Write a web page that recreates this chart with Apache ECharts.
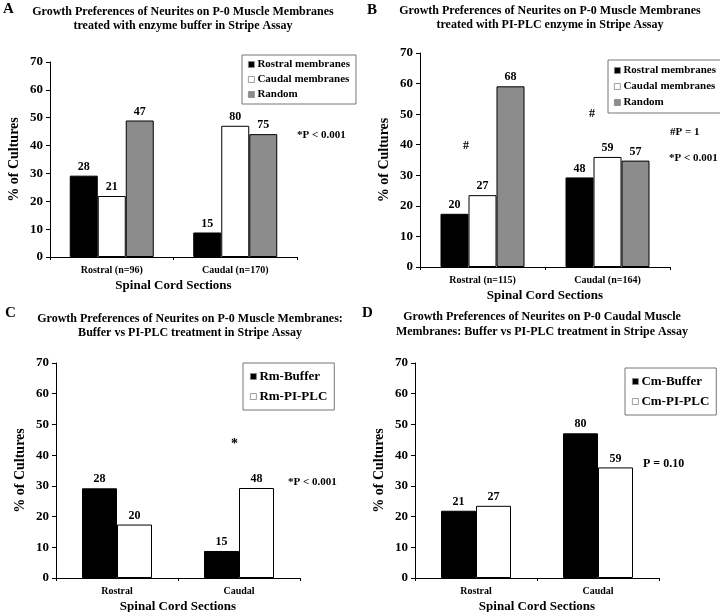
<!DOCTYPE html>
<html>
<head>
<meta charset="utf-8">
<script src="https://cdn.jsdelivr.net/npm/echarts@6/dist/echarts.min.js"></script>
<style>html,body{margin:0;padding:0;background:#fff}#c{width:720px;height:612px}</style>
</head>
<body>
<div id="c"></div>
<script>
// ---- data ----
const categoriesA = ['Rostral (n=96)', 'Caudal (n=170)'];
const categoriesB = ['Rostral (n=115)', 'Caudal (n=164)'];
const categoriesCD = ['Rostral', 'Caudal'];
const yTicks = [0, 10, 20, 30, 40, 50, 60, 70];

// Panel A (% of cultures) and counts shown above bars
const rostralMembA = [29.2, 8.8];
const caudalMembA = [21.9, 47.1];
const randomA = [49.0, 44.1];
const rostralMembACount = [28, 15];
const caudalMembACount = [21, 80];
const randomACount = [47, 75];

// Panel B
const rostralMembB = [17.4, 29.3];
const caudalMembB = [23.5, 36.0];
const randomB = [59.1, 34.8];
const rostralMembBCount = [20, 48];
const caudalMembBCount = [27, 59];
const randomBCount = [68, 57];

// Panel C
const rmBuffer = [29.2, 8.8];
const rmPiPlc = [17.4, 29.3];
const rmBufferCount = [28, 15];
const rmPiPlcCount = [20, 48];

// Panel D
const cmBuffer = [21.9, 47.1];
const cmPiPlc = [23.5, 36.0];
const cmBufferCount = [21, 80];
const cmPiPlcCount = [27, 59];

// ---- styling ----
const FF = 'Liberation Serif';
const BLACK = '#000000', WHITE = '#ffffff', GRAY = '#8c8c8c';

function yAxis(grid) {
  return {
    type: 'value', gridIndex: grid, min: yTicks[0], max: yTicks[yTicks.length - 1], interval: 10,
    name: '% of Cultures', nameLocation: 'middle', nameGap: 29, nameRotate: 90,
    nameTextStyle: { fontFamily: FF, fontWeight: 'bold', fontSize: 14, color: '#000' },
    axisLine: { show: true, lineStyle: { color: '#000', width: 1 } },
    axisTick: { show: true, length: 4, lineStyle: { color: '#000' } },
    axisLabel: { fontFamily: FF, fontWeight: 'bold', fontSize: 13, color: '#000', margin: 7 },
    splitLine: { show: false }
  };
}
function xAxis(grid, cats) {
  return {
    type: 'category', gridIndex: grid, data: cats,
    name: 'Spinal Cord Sections', nameLocation: 'middle', nameGap: 22,
    nameTextStyle: { fontFamily: FF, fontWeight: 'bold', fontSize: 13, color: '#000' },
    axisLine: { show: true, lineStyle: { color: '#000', width: 1 } },
    axisTick: { show: true, length: 3, lineStyle: { color: '#000' } },
    axisLabel: { fontFamily: FF, fontWeight: 'bold', fontSize: 10, color: '#000', margin: 8 }
  };
}
function bar(name, grid, data, counts, color, width) {
  return {
    type: 'bar', name: name, xAxisIndex: grid, yAxisIndex: grid, data: data,
    barWidth: width, barGap: '0%',
    itemStyle: { color: color, borderColor: '#000', borderWidth: 1 },
    label: {
      show: true, position: 'top', distance: 3,
      fontFamily: FF, fontWeight: 'bold', fontSize: 12, color: '#000',
      formatter: p => String(counts[p.dataIndex])
    },
    emphasis: { disabled: true }, animation: false
  };
}
function legend(names, left, top, fontSize, gap, pad) {
  return {
    data: names.map(n => ({ name: n, icon: 'rect' })), orient: 'vertical', left: left, top: top,
    itemWidth: 6, itemHeight: 6, itemGap: gap, padding: pad,
    borderColor: '#777', borderWidth: 1,
    itemStyle: { borderColor: '#888', borderWidth: 0.8 },
    textStyle: { fontFamily: FF, fontWeight: 'bold', fontSize: fontSize, color: '#000', padding: [0, 0, 0, -2] },
    selectedMode: false
  };
}
function title(text, cx, top, lh) {
  return {
    text: text, left: cx, top: top, textAlign: 'center', padding: 0,
    textStyle: { fontFamily: FF, fontWeight: 'bold', fontSize: 12, color: '#000', lineHeight: lh }
  };
}
function letter(t, left, top) {
  return { text: t, left: left, top: top, padding: 0, textStyle: { fontFamily: FF, fontWeight: 'bold', fontSize: 15, color: '#000' } };
}
function note(text, x, y, size) {
  return { type: 'text', left: x, top: y, style: { text: text, fontFamily: FF, fontWeight: 'bold', fontSize: size, fill: '#000' } };
}
function grid(left, top, width, height) {
  return { left: left, top: top, width: width, height: height, outerBoundsMode: 'none', containLabel: false };
}

const option = {
  backgroundColor: '#fff',
  animation: false,
  title: [
    letter('A', 3, 2), letter('B', 367, 3), letter('C', 5, 306), letter('D', 362, 306),
    title('Growth Preferences of Neurites on P-0 Muscle Membranes\ntreated with enzyme buffer in Stripe Assay', 183, 5, 14),
    title('Growth Preferences of Neurites on P-0 Muscle Membranes\ntreated with PI-PLC enzyme in Stripe Assay', 550, 4, 14),
    title('Growth Preferences of Neurites on P-0 Muscle Membranes:\nBuffer vs PI-PLC treatment in Stripe Assay', 190, 312, 14),
    title('Growth Preferences of Neurites on P-0 Caudal Muscle\nMembranes: Buffer vs PI-PLC treatment in Stripe Assay', 542, 309, 15)
  ],
  grid: [
    grid(50, 62, 247, 195),
    grid(420, 53, 250, 214),
    grid(56, 363, 244, 215),
    grid(415, 363, 244, 215)
  ],
  xAxis: [xAxis(0, categoriesA), xAxis(1, categoriesB), xAxis(2, categoriesCD), xAxis(3, categoriesCD)],
  yAxis: [yAxis(0), yAxis(1), yAxis(2), yAxis(3)],
  legend: [
    legend(['Rostral membranes', 'Caudal membranes', 'Random'], 242, 55, 11, 4, [4, 6, 4, 6]),
    legend(['Rostral membranes', 'Caudal membranes', 'Random'], 608, 60, 11, 5, [5, 6, 5, 6]),
    legend(['Rm-Buffer', 'Rm-PI-PLC'], 243, 363, 13, 7, [7, 7, 7, 7]),
    legend(['Cm-Buffer', 'Cm-PI-PLC'], 625, 368, 13, 7, [7, 7, 7, 7])
  ],
  series: [
    bar('Rostral membranes', 0, rostralMembA, rostralMembACount, BLACK, 28),
    bar('Caudal membranes', 0, caudalMembA, caudalMembACount, WHITE, 28),
    bar('Random', 0, randomA, randomACount, GRAY, 28),
    bar('Rostral membranes', 1, rostralMembB, rostralMembBCount, BLACK, 28),
    bar('Caudal membranes', 1, caudalMembB, caudalMembBCount, WHITE, 28),
    bar('Random', 1, randomB, randomBCount, GRAY, 28),
    bar('Rm-Buffer', 2, rmBuffer, rmBufferCount, BLACK, 35),
    bar('Rm-PI-PLC', 2, rmPiPlc, rmPiPlcCount, WHITE, 35),
    bar('Cm-Buffer', 3, cmBuffer, cmBufferCount, BLACK, 35),
    bar('Cm-PI-PLC', 3, cmPiPlc, cmPiPlcCount, WHITE, 35)
  ],
  graphic: [
    note('*P < 0.001', 297, 130, 11),
    note('#', 463, 140, 12),
    note('#', 589, 108, 12),
    note('#P = 1', 670, 127, 11),
    note('*P < 0.001', 669, 153, 11),
    note('*', 231, 437, 14),
    note('*P < 0.001', 288, 477, 11),
    note('P = 0.10', 643, 458, 12)
  ]
};

const chart = echarts.init(document.getElementById('c'), null, { renderer: 'canvas' });
chart.setOption(option);
</script>
</body>
</html>
